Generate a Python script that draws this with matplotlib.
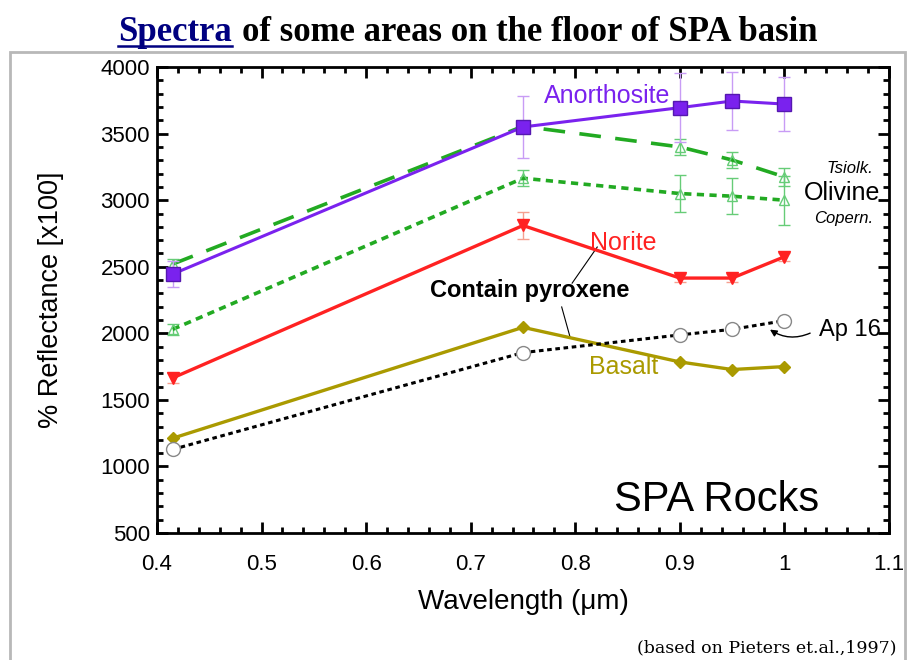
import matplotlib
matplotlib.use("Agg")
import matplotlib.pyplot as plt
from matplotlib.patches import Rectangle
from matplotlib.ticker import MultipleLocator

# wavelengths (um)
wl = [0.415, 0.75, 0.9, 0.95, 1.0]

anorthosite = [2445, 3550, 3695, 3745, 3722]
anorthosite_err = [100, 235, 260, 220, 205]
olivine_tsiolk = [2520, 3555, 3400, 3302, 3175]
olivine_tsiolk_err = [40, 40, 60, 60, 70]
olivine_copern = [2030, 3165, 3050, 3030, 3000]
olivine_copern_err = [40, 60, 140, 135, 185]
norite = [1665, 2810, 2415, 2415, 2575]
norite_err = [40, 100, 30, 30, 30]
basalt = [1212, 2045, 1785, 1728, 1750]
ap16 = [1128, 1855, 1988, 2030, 2095]

purple = "#7a22ee"
green = "#22aa22"
lightgreen = "#66cc77"
red = "#ff2222"
olive = "#aa9a00"

plt.rcParams["font.family"] = ["Liberation Sans", "DejaVu Sans"]

fig = plt.figure(figsize=(9.09, 6.6), dpi=100)
fig.patches.append(Rectangle((10 / 909, -0.01), 895 / 909, 1 - 52 / 660 + 0.01,
                             transform=fig.transFigure, fill=False,
                             edgecolor="#b8b8b8", linewidth=2))

# title with underlined blue link word
t1 = fig.text(0.13, 0.951, "Spectra", family="Liberation Serif", weight="bold",
              fontsize=25, color="#000080", ha="left", va="center")
r = fig.canvas.get_renderer()
bb = t1.get_window_extent(renderer=r)
x_end = bb.x1 / fig.bbox.width
fig.text(x_end + 0.011, 0.951, "of some areas on the floor of SPA basin",
         family="Liberation Serif", weight="bold", fontsize=25, ha="left", va="center")
fig.lines.append(plt.Line2D([0.13, x_end], [0.93, 0.93], transform=fig.transFigure,
                            color="#000080", linewidth=1.8))

ax = fig.add_axes([0.1727, 0.1924, 0.8053, 0.706])

ax.errorbar(wl, anorthosite, yerr=anorthosite_err, color=purple, lw=2.2,
            marker="s", ms=10, mfc=purple, mec="#5518b0", ecolor="#c89cf5",
            elinewidth=1, capsize=4, zorder=4)
ax.errorbar(wl, olivine_tsiolk, yerr=olivine_tsiolk_err, color=green, lw=2.6,
            ls=(0, (6, 4)), marker="^", ms=7, mfc="none", mec=lightgreen,
            ecolor=lightgreen, elinewidth=1, capsize=4, zorder=3)
ax.errorbar(wl, olivine_copern, yerr=olivine_copern_err, color=green, lw=2.6,
            ls=(0, (2, 1.5)), marker="^", ms=7, mfc="none", mec=lightgreen,
            ecolor=lightgreen, elinewidth=1, capsize=4, zorder=3)
ax.errorbar(wl, norite, yerr=norite_err, color=red, lw=2.4, marker="v", ms=8,
            mfc=red, mec=red, ecolor="#f5a090", elinewidth=1, capsize=4, zorder=3)
ax.plot(wl, basalt, color=olive, lw=2.4, marker="D", ms=6, mfc=olive, mec=olive, zorder=3)
ax.plot(wl, ap16, color="black", lw=2.2, ls=(0, (1.5, 1.2)), marker="o", ms=10,
        mfc="white", mec="#888888", zorder=3)

ax.set_xlim(0.4, 1.1)
ax.set_ylim(500, 4000)
ax.xaxis.set_major_locator(MultipleLocator(0.1))
ax.xaxis.set_minor_locator(MultipleLocator(0.02))
ax.yaxis.set_major_locator(MultipleLocator(500))
ax.yaxis.set_minor_locator(MultipleLocator(100))
ax.tick_params(which="both", direction="in", top=True, right=True, width=2,
               labelsize=16)
ax.tick_params(which="major", length=8)
ax.tick_params(which="minor", length=4)
ax.tick_params(axis="x", which="major", pad=15)
ax.tick_params(axis="y", which="major", pad=5)
for s in ax.spines.values():
    s.set_linewidth(2)
ax.set_xticks([0.4, 0.5, 0.6, 0.7, 0.8, 0.9, 1.0, 1.1])
ax.set_xticklabels(["0.4", "0.5", "0.6", "0.7", "0.8", "0.9", "1", "1.1"])

ax.set_xlabel("Wavelength (\u03bcm)", fontsize=20, labelpad=10)
ax.set_ylabel("% Reflectance [x100]", fontsize=19.5, labelpad=26)

ax.text(0.83, 3782, "Anorthosite", color=purple, fontsize=18, ha="center", va="center")
ax.text(1.085, 3241, "Tsiolk.", fontsize=12, style="italic", ha="right", va="center")
ax.text(1.092, 3054, "Olivine", fontsize=18, ha="right", va="center")
ax.text(1.085, 2866, "Copern.", fontsize=12, style="italic", ha="right", va="center")
ax.text(0.846, 2678, "Norite", color=red, fontsize=18, ha="center", va="center")
ax.text(0.756, 2325, "Contain pyroxene", fontsize=17, weight="bold", ha="center", va="center")
ax.text(0.846, 1747, "Basalt", color=olive, fontsize=18, ha="center", va="center")
ax.text(1.092, 2025, "Ap 16", fontsize=17, ha="right", va="center")
ax.text(0.935, 750, "SPA Rocks", fontsize=30, ha="center", va="center")

ax.plot([0.821, 0.797], [2648, 2377], color="black", lw=0.8)
ax.plot([0.787, 0.795], [2198, 1972], color="black", lw=0.8)
ax.annotate("", xy=(0.984, 2040), xytext=(1.027, 2010),
            arrowprops=dict(arrowstyle="-|>", color="black", lw=1,
                            connectionstyle="arc3,rad=-0.3"))

fig.text(0.986, 0.018, "(based on Pieters et.al.,1997)", family="DejaVu Serif",
         fontsize=12.5, ha="right", va="center")

fig.savefig("out.png", dpi=100)
